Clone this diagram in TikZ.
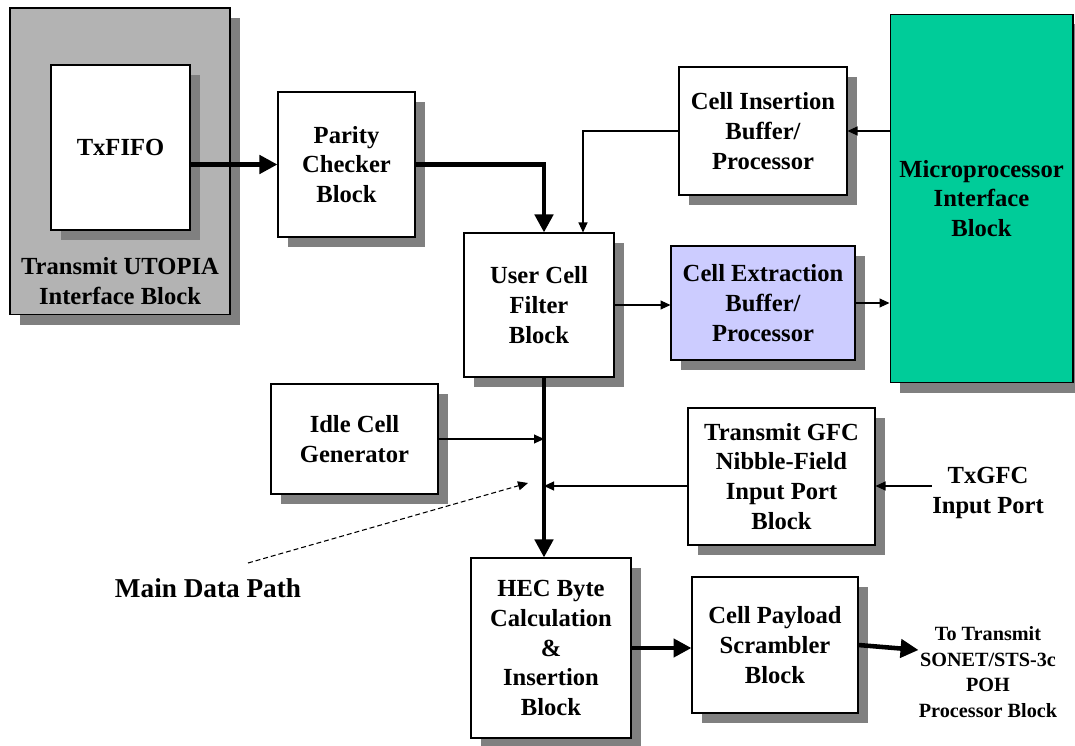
\documentclass[tikz,border=0pt]{standalone}
\usepackage{fontspec}
\setmainfont{Liberation Serif}
\usetikzlibrary{arrows.meta,shadows}
\definecolor{shadowgray}{HTML}{808080}
\definecolor{utopiagray}{HTML}{B3B3B3}
\definecolor{extractblue}{HTML}{CCCCFF}
\definecolor{microgreen}{HTML}{00CC99}
\tikzset{
	blockbox/.style={draw=black, line width=0.6pt, fill=white, align=center, inner sep=0pt,
		font=\fontsize{14}{17}\selectfont\bfseries,
		drop shadow={shadow xshift=0.2cm, shadow yshift=-0.2cm, fill=shadowgray, opacity=1}},
	plaintext/.style={align=center, inner sep=0pt, font=\fontsize{14}{17}\selectfont\bfseries},
	bigarrow/.style={line width=2.6pt, -{Triangle[length=0.36cm,width=0.36cm]}},
	thinarrow/.style={line width=0.6pt, -{Triangle[length=0.2cm,width=0.18cm]}},
	dasharrow/.style={line width=0.6pt, dash pattern=on 2.8pt off 1.7pt, -{Triangle[length=0.2cm,width=0.18cm]}}
}

\begin{document}
\begin{tikzpicture}[x=0.02cm, y=-0.02cm]
			%%%%% START %%%%%
			\useasboundingbox (0, 0) rectangle (1075, 746);
			
			\node[blockbox, fill=utopiagray, minimum width=4.4cm, minimum height=6.14cm] (utopia) at (120, 161.5) {};
			\node[plaintext] (utopialbl) at (120, 281) {Transmit UTOPIA\\Interface Block};
			\node[blockbox, minimum width=2.78cm, minimum height=3.3cm] (fifo) at (120.5, 147.5) {TxFIFO};
			
			\node[blockbox, minimum width=2.74cm, minimum height=2.9cm] (parity) at (346.5, 164.5) {Parity\\Checker\\Block};
			\node[blockbox, minimum width=3.36cm, minimum height=2.56cm] (insbuf) at (763, 131) {Cell Insertion\\Buffer/\\Processor};
			\node[blockbox, minimum width=3cm, minimum height=2.88cm] (filter) at (539, 305) {User Cell\\Filter\\Block};
			\node[blockbox, fill=extractblue, minimum width=3.68cm, minimum height=2.28cm] (extbuf) at (763, 303) {Cell Extraction\\Buffer/\\Processor};
			\node[blockbox, fill=microgreen, minimum width=3.66cm, minimum height=7.38cm] (mpif) at (981.5, 198.5) {Microprocessor\\Interface\\Block};
			
			\node[blockbox, minimum width=3.34cm, minimum height=2.2cm] (idle) at (354.5, 439) {Idle Cell\\Generator};
			\node[blockbox, minimum width=3.74cm, minimum height=2.74cm] (gfc) at (781.5, 476.5) {Transmit GFC\\Nibble-Field\\Input Port\\Block};
			\node[plaintext] (txgfc) at (988, 493) {TxGFC\\Input Port};
			
			\node[blockbox, minimum width=3.2cm, minimum height=3.6cm] (hec) at (551, 648) {HEC Byte\\Calculation\\\&\\Insertion\\Block};
			\node[blockbox, minimum width=3.32cm, minimum height=2.72cm] (scram) at (775, 645) {Cell Payload\\Scrambler\\Block};
			\node[plaintext, font=\fontsize{11.5}{14.7}\selectfont\bfseries] (totx) at (988, 672) {To Transmit\\SONET/STS-3c\\POH\\Processor Block};
			\node[plaintext, font=\fontsize{15.5}{18}\selectfont\bfseries] (mdp) at (208, 588) {Main Data Path};
			
			\coordinate (bus) at (544, 0);
			\coordinate (tap) at (583, 0);
			\coordinate (join) at (544, 486);
			\coordinate (mdptail) at (248, 563);
			\coordinate (mdptip) at (528, 483);
			
			% main data path
			\draw[bigarrow] (fifo.east |- parity.west) -- (parity.west);
			\draw[bigarrow] (parity.east) -| (bus |- filter.north);
			\draw[bigarrow] (bus |- filter.south) -- (bus |- hec.north);
			\draw[bigarrow] (hec.east) -- (hec.east -| scram.west);
			\draw[bigarrow] (scram.east) -- ([yshift=0.44cm]totx.west);
			
			% side paths
			\draw[thinarrow] (insbuf.west) -| (tap |- filter.north);
			\draw[thinarrow] (mpif.west |- insbuf.east) -- (insbuf.east);
			\draw[thinarrow] (filter.east) -- (filter.east -| extbuf.west);
			\draw[thinarrow] (extbuf.east) -- (extbuf.east -| mpif.west);
			\draw[thinarrow] (idle.east) -- (idle.east -| bus);
			\draw[thinarrow] (gfc.west |- join) -- (join);
			\draw[thinarrow] (txgfc.west |- join) -- (gfc.east |- join);
			
			\draw[dasharrow] (mdptail) -- (mdptip);
			%%%%% END %%%%%
\end{tikzpicture}
\end{document}
